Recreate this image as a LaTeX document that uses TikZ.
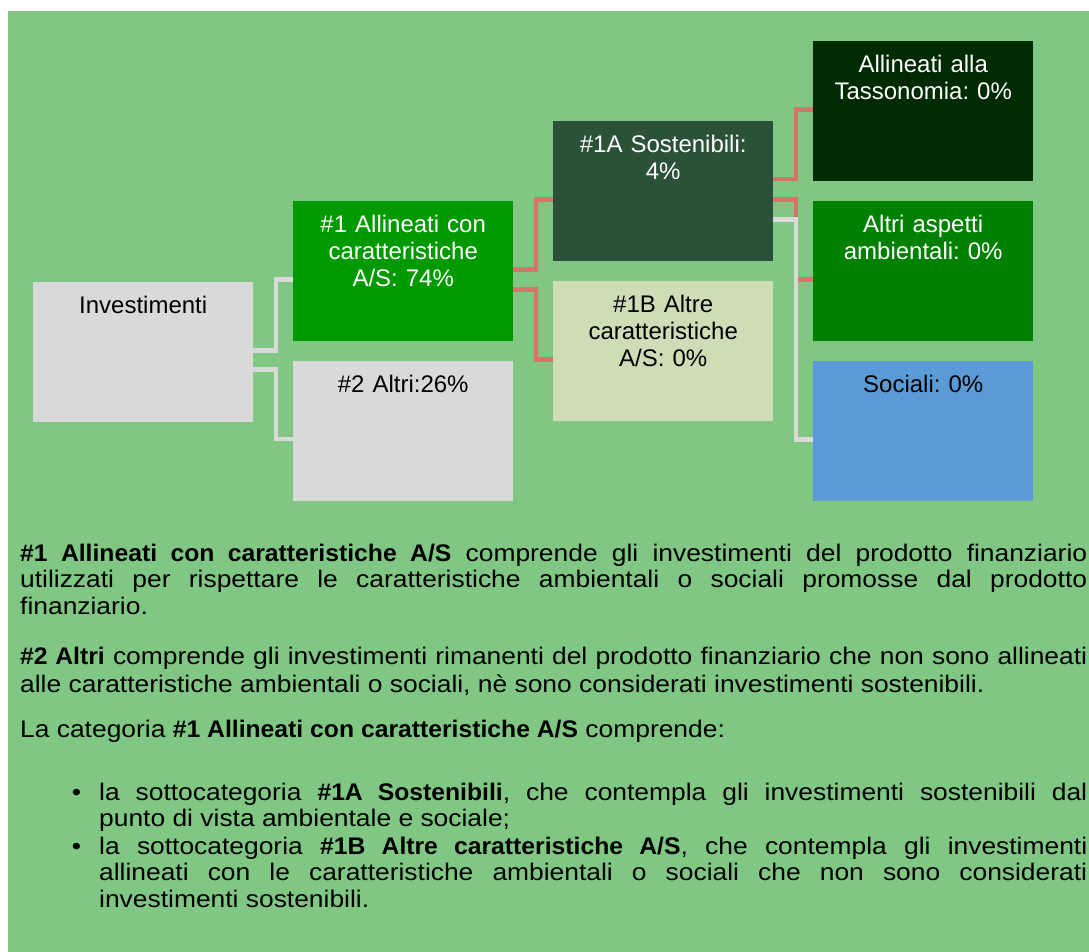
\documentclass[tikz,border=0pt]{standalone}
\usepackage{fontspec}
\newfontfamily\boxfont{Liberation Sans}
\newfontfamily\parafont{Liberation Sans}[FakeStretch=1.1,BoldFeatures={FakeStretch=1.03}]
\definecolor{sfondo}{RGB}{129,199,132}
\definecolor{verdeuno}{RGB}{0,153,0}
\definecolor{verdescuro}{RGB}{43,81,57}
\definecolor{verdechiaro}{RGB}{207,221,183}
\definecolor{verdetasso}{RGB}{0,43,0}
\definecolor{verdeamb}{RGB}{0,128,0}
\definecolor{blusoc}{RGB}{91,155,213}
\definecolor{grigio}{RGB}{217,217,217}
\definecolor{rosso}{RGB}{215,115,107}
\frenchspacing

\begin{document}
\begin{tikzpicture}[x=1pt,y=-1pt]
  \tikzstyle{Box}=[anchor=north west,text width=220pt,inner sep=0pt,
                   text height=31.5pt,text depth=108.5pt,align=center,
                   font=\boxfont\fontsize{24}{27}\selectfont]
  \tikzstyle{Para}=[anchor=base west,inner sep=0pt,align=justify,
                    font=\parafont\fontsize{24}{26.5}\selectfont]
  \tikzstyle{Link}=[line width=4.5pt]
  \useasboundingbox (0,0) rectangle (1089,952);
  \fill[white] (0,0) rectangle (1089,952);
  \fill[sfondo] (8,11) rectangle (1089,952);

  \node[Box,fill=grigio] (inv) at (33,282) {Investimenti};
  \node[Box,fill=verdeuno,text=white] (all) at (293,201) {\#1 Allineati con\\caratteristiche\\A/S: 74\%};
  \node[Box,fill=grigio] (altri) at (293,361) {\#2 Altri:26\%};
  \node[Box,fill=verdescuro,text=white] (sost) at (553,121) {\#1A Sostenibili:\\4\%};
  \node[Box,fill=verdechiaro] (altre) at (553,281) {\#1B Altre\\caratteristiche\\A/S: 0\%};
  \node[Box,fill=verdetasso,text=white] (tass) at (813,41) {Allineati alla\\Tassonomia: 0\%};
  \node[Box,fill=verdeamb,text=white] (amb) at (813,201) {Altri aspetti\\ambientali: 0\%};
  \node[Box,fill=blusoc] (soc) at (813,361) {Sociali: 0\%};

  \draw[Link,grigio] ([yshift=1.5pt]inv.east) -- ++(22.5,0) |- ([yshift=-8.5pt]all.west);
  \draw[Link,grigio] ([yshift=-17.5pt]inv.east) -- ++(22.5,0) |- ([yshift=-8pt]altri.west);
  \draw[Link,rosso] ([yshift=1.5pt]all.east) -- ++(22.5,0) |- ([yshift=-8.5pt]sost.west);
  \draw[Link,rosso] ([yshift=-18.5pt]all.east) -- ++(22.5,0) |- ([yshift=-8.5pt]altre.west);
  \draw[Link,rosso] ([yshift=12pt]sost.east) -- ++(22.5,0) |- ([yshift=1.5pt]tass.west);
  \draw[Link,rosso] ([yshift=-8.5pt]sost.east) -- ++(22.5,0) |- ([yshift=-8.5pt]amb.west);
  \draw[Link,grigio] ([yshift=-28.5pt]sost.east) -- ++(22.5,0) |- ([yshift=-8.5pt]soc.west);

  \node[Para,text width=1067pt] (def1) at (20,561) {\textbf{\#1 Allineati con caratteristiche A/S} comprende gli investimenti del prodotto finanziario\linebreak utilizzati per rispettare le caratteristiche ambientali o sociali promosse dal prodotto\linebreak finanziario.};
  \node[Para,text width=1067pt,font=\parafont\fontsize{24}{28}\selectfont] (def2) at (20,664) {\textbf{\#2 Altri} comprende gli investimenti rimanenti del prodotto finanziario che non sono allineati\linebreak alle caratteristiche ambientali o sociali, nè sono considerati investimenti sostenibili.};
  \node[Para,text width=1067pt] (cat) at (20,737) {La categoria \textbf{\#1 Allineati con caratteristiche A/S} comprende:};
  \node[Para,text width=988pt] (sub1) at (99,800) {\noindent\llap{\textbullet\hspace{18pt}}la sottocategoria \textbf{\#1A Sostenibili}, che contempla gli investimenti sostenibili dal\linebreak punto di vista ambientale e sociale;};
  \node[Para,text width=988pt] (sub2) at (99,854) {\noindent\llap{\textbullet\hspace{18pt}}la sottocategoria \textbf{\#1B Altre caratteristiche A/S}, che contempla gli investimenti\linebreak allineati con le caratteristiche ambientali o sociali che non sono considerati\linebreak investimenti sostenibili.};
\end{tikzpicture}
\end{document}
